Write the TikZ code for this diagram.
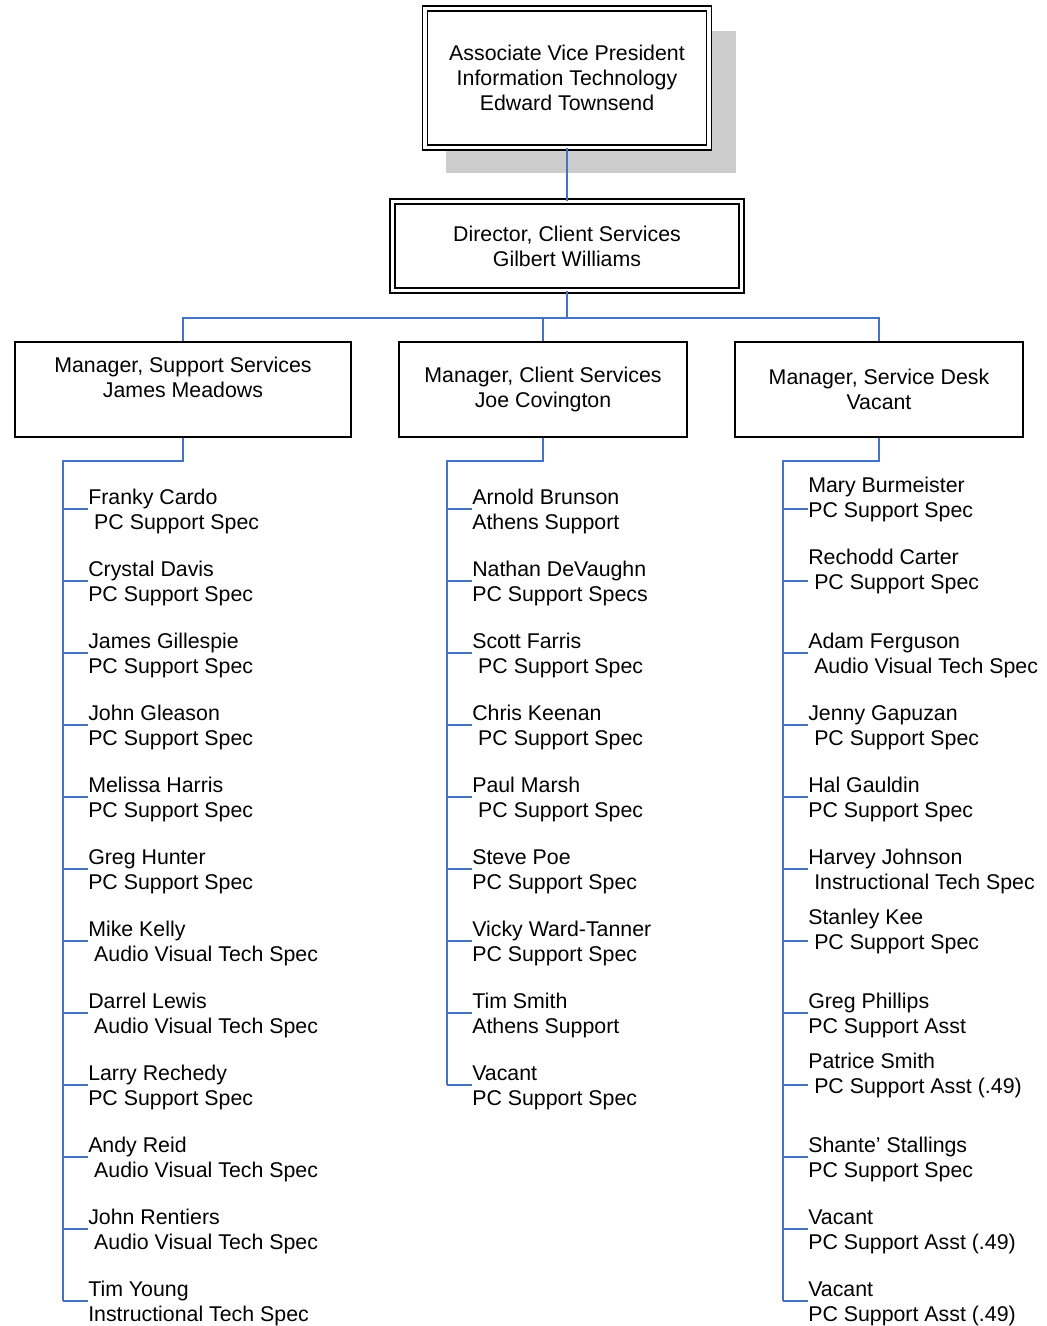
\documentclass[tikz,border=0pt]{standalone}
\usepackage{fontspec}
\setmainfont{Liberation Sans}
\usepackage{tikz}
\usetikzlibrary{shadows}

\definecolor{linkblue}{HTML}{4472C4}
\newcommand{\chartfont}{\fontsize{16}{18.75}\selectfont}
\newcommand{\ind}{\hspace*{0.28em}}

\tikzset{
	chartbox/.style={draw, fill=white, line width=1.1pt, inner sep=0pt, align=center, font=\chartfont},
	headbox/.style={chartbox, double, double distance=2.6pt},
	staff/.style={anchor=west, yshift=-1.875pt, inner sep=0pt, align=left, font=\chartfont},
	link/.style={draw=linkblue, line width=1.1pt},
}

\begin{document}
\begin{tikzpicture}[x=0.75pt,y=-0.75pt]
		\useasboundingbox (0,0) rectangle (1046,1326);
		\node[headbox, minimum width=213pt, minimum height=104.25pt, drop shadow={shadow xshift=17.6pt, shadow yshift=-17.6pt, shadow scale=1.02, fill=gray!40, opacity=1}] (avp) at (567,78) {Associate Vice President\\Information Technology\\Edward Townsend};
		\node[headbox, minimum width=261.75pt, minimum height=66.75pt] (dir) at (567,246) {Director, Client Services\\Gilbert Williams};
		\node[chartbox, minimum width=252pt, minimum height=71.25pt] (mss) at (183,389.5) {Manager, Support Services\\James Meadows\\\mbox{}};
		\node[chartbox, minimum width=216pt, minimum height=71.25pt] (mcs) at (543,389.5) {Manager, Client Services\\Joe Covington};
		\node[chartbox, minimum width=216pt, minimum height=71.25pt] (msd) at (879,389.5) {Manager, Service Desk\\Vacant};
		\coordinate (bus) at (567,318);
		\coordinate (trunkA) at (63,461);
		\coordinate (trunkB) at (447,461);
		\coordinate (trunkC) at (783,461);
		\coordinate (endA) at (63,1301);
		\coordinate (endB) at (447,1085);
		\coordinate (endC) at (783,1301);
		\draw[link] (avp.south) -- (dir.north);
		\draw[link] (dir.south) -- (bus) -| (mss.north);
		\draw[link] (bus) -| (mcs.north);
		\draw[link] (bus) -| (msd.north);

		\node[staff] (cardo) at (88,509) {Franky Cardo\\\ind PC Support Spec};
		\node[staff] (davis) at (88,581) {Crystal Davis\\PC Support Spec};
		\node[staff] (gillespie) at (88,653) {James Gillespie\\PC Support Spec};
		\node[staff] (gleason) at (88,725) {John Gleason\\PC Support Spec};
		\node[staff] (harris) at (88,797) {Melissa Harris\\PC Support Spec};
		\node[staff] (hunter) at (88,869) {Greg Hunter\\PC Support Spec};
		\node[staff] (kelly) at (88,941) {Mike Kelly\\\ind Audio Visual Tech Spec};
		\node[staff] (lewis) at (88,1013) {Darrel Lewis\\\ind Audio Visual Tech Spec};
		\node[staff] (rechedy) at (88,1085) {Larry Rechedy\\PC Support Spec};
		\node[staff] (reid) at (88,1157) {Andy Reid\\\ind Audio Visual Tech Spec};
		\node[staff] (rentiers) at (88,1229) {John Rentiers\\\ind Audio Visual Tech Spec};
		\node[staff] (young) at (88,1301) {Tim Young\\Instructional Tech Spec};
		\draw[link] (mss.south) |- (trunkA) -- (endA);
		\draw[link] ([yshift=1.875pt]cardo.west) -- ++(-25,0);
		\draw[link] ([yshift=1.875pt]davis.west) -- ++(-25,0);
		\draw[link] ([yshift=1.875pt]gillespie.west) -- ++(-25,0);
		\draw[link] ([yshift=1.875pt]gleason.west) -- ++(-25,0);
		\draw[link] ([yshift=1.875pt]harris.west) -- ++(-25,0);
		\draw[link] ([yshift=1.875pt]hunter.west) -- ++(-25,0);
		\draw[link] ([yshift=1.875pt]kelly.west) -- ++(-25,0);
		\draw[link] ([yshift=1.875pt]lewis.west) -- ++(-25,0);
		\draw[link] ([yshift=1.875pt]rechedy.west) -- ++(-25,0);
		\draw[link] ([yshift=1.875pt]reid.west) -- ++(-25,0);
		\draw[link] ([yshift=1.875pt]rentiers.west) -- ++(-25,0);
		\draw[link] ([yshift=1.875pt]young.west) -- (endA);

		\node[staff] (brunson) at (472,509) {Arnold Brunson\\Athens Support};
		\node[staff] (devaughn) at (472,581) {Nathan DeVaughn\\PC Support Specs};
		\node[staff] (farris) at (472,653) {Scott Farris\\\ind PC Support Spec};
		\node[staff] (keenan) at (472,725) {Chris Keenan\\\ind PC Support Spec};
		\node[staff] (marsh) at (472,797) {Paul Marsh\\\ind PC Support Spec};
		\node[staff] (poe) at (472,869) {Steve Poe\\PC Support Spec};
		\node[staff] (ward) at (472,941) {Vicky Ward-Tanner\\PC Support Spec};
		\node[staff] (tsmith) at (472,1013) {Tim Smith\\Athens Support};
		\node[staff] (vacantB) at (472,1085) {Vacant\\PC Support Spec};
		\draw[link] (mcs.south) |- (trunkB) -- (endB);
		\draw[link] ([yshift=1.875pt]brunson.west) -- ++(-25,0);
		\draw[link] ([yshift=1.875pt]devaughn.west) -- ++(-25,0);
		\draw[link] ([yshift=1.875pt]farris.west) -- ++(-25,0);
		\draw[link] ([yshift=1.875pt]keenan.west) -- ++(-25,0);
		\draw[link] ([yshift=1.875pt]marsh.west) -- ++(-25,0);
		\draw[link] ([yshift=1.875pt]poe.west) -- ++(-25,0);
		\draw[link] ([yshift=1.875pt]ward.west) -- ++(-25,0);
		\draw[link] ([yshift=1.875pt]tsmith.west) -- ++(-25,0);
		\draw[link] ([yshift=1.875pt]vacantB.west) -- (endB);

		\node[staff] (burmeister) at (808,496.5) {Mary Burmeister\\PC Support Spec};
		\node[staff] (carter) at (808,568.5) {Rechodd Carter\\\ind PC Support Spec};
		\node[staff] (ferguson) at (808,653) {Adam Ferguson\\\ind Audio Visual Tech Spec};
		\node[staff] (gapuzan) at (808,725) {Jenny Gapuzan\\\ind PC Support Spec};
		\node[staff] (gauldin) at (808,797) {Hal Gauldin\\PC Support Spec};
		\node[staff] (johnson) at (808,869) {Harvey Johnson\\\ind Instructional Tech Spec};
		\node[staff] (kee) at (808,928.5) {Stanley Kee\\\ind PC Support Spec};
		\node[staff] (phillips) at (808,1013) {Greg Phillips\\PC Support Asst};
		\node[staff] (psmith) at (808,1072.5) {Patrice Smith\\\ind PC Support Asst (.49)};
		\node[staff] (stallings) at (808,1157) {Shante’ Stallings\\PC Support Spec};
		\node[staff] (vacantC) at (808,1229) {Vacant\\PC Support Asst (.49)};
		\node[staff] (vacantD) at (808,1301) {Vacant\\PC Support Asst (.49)};
		\draw[link] (msd.south) |- (trunkC) -- (endC);
		\draw[link] ([yshift=-7.5pt]burmeister.west) -- ++(-25,0);
		\draw[link] ([yshift=-7.5pt]carter.west) -- ++(-25,0);
		\draw[link] ([yshift=1.875pt]ferguson.west) -- ++(-25,0);
		\draw[link] ([yshift=1.875pt]gapuzan.west) -- ++(-25,0);
		\draw[link] ([yshift=1.875pt]gauldin.west) -- ++(-25,0);
		\draw[link] ([yshift=1.875pt]johnson.west) -- ++(-25,0);
		\draw[link] ([yshift=-7.5pt]kee.west) -- ++(-25,0);
		\draw[link] ([yshift=1.875pt]phillips.west) -- ++(-25,0);
		\draw[link] ([yshift=-7.5pt]psmith.west) -- ++(-25,0);
		\draw[link] ([yshift=1.875pt]stallings.west) -- ++(-25,0);
		\draw[link] ([yshift=1.875pt]vacantC.west) -- ++(-25,0);
		\draw[link] ([yshift=1.875pt]vacantD.west) -- (endC);
	\end{tikzpicture}
\end{document}
